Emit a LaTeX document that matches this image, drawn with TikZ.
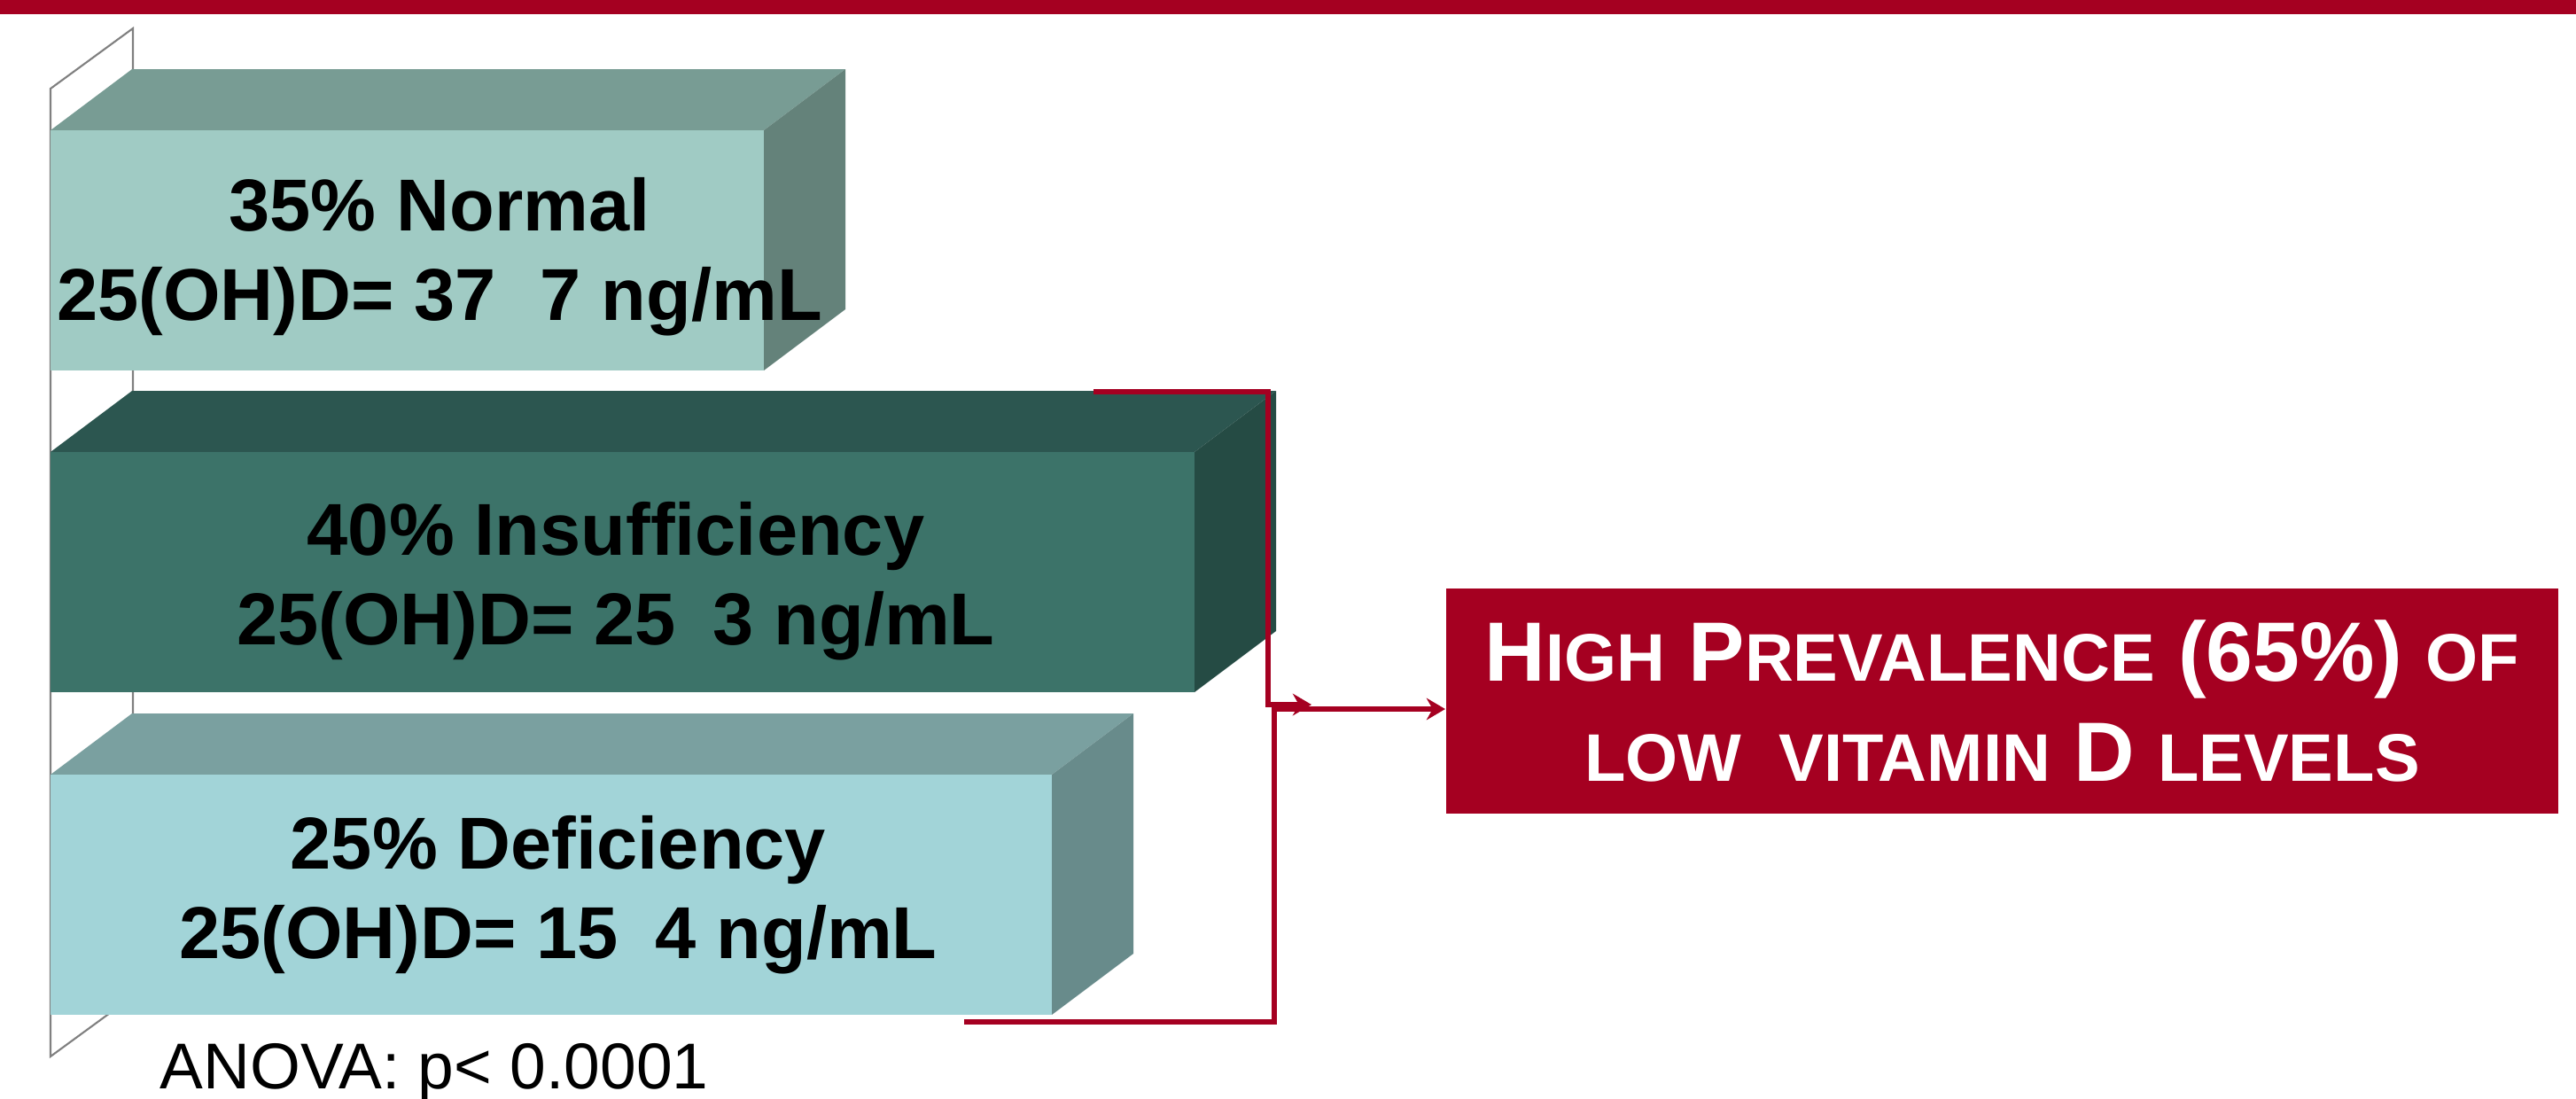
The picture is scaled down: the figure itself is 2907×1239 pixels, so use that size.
\documentclass[tikz,border=0pt]{standalone}
\usepackage{fontspec}
\setmainfont{Liberation Sans}
\usepackage{tikz}
\usetikzlibrary{arrows.meta}
\definecolor{prev red}{HTML}{A50021}
\definecolor{wall gray}{HTML}{808080}
\definecolor{normal front}{HTML}{A0CBC4}
\definecolor{normal top}{HTML}{789C94}
\definecolor{normal side}{HTML}{64827A}
\definecolor{insuff front}{HTML}{3C7369}
\definecolor{insuff top}{HTML}{2C5650}
\definecolor{insuff side}{HTML}{254B44}
\definecolor{defic front}{HTML}{A2D4D8}
\definecolor{defic top}{HTML}{7AA0A0}
\definecolor{defic side}{HTML}{688B8B}
% one bar: left, top, right, bottom, colour stem
\newcommand{\prismbar}[5]{%
  \fill[#5 top] (#1,#2) -- (#1+92,#2-69) -- (#3+92,#2-69) -- (#3,#2) -- cycle;
  \fill[#5 side] (#3,#2) -- (#3+92,#2-69) -- (#3+92,#4-69) -- (#3,#4) -- cycle;
  \fill[#5 front] (#1,#2) rectangle (#3,#4);}
\newcommand{\lowcaps}[1]{{\fontsize{21.6pt}{32pt}\selectfont #1}}

\begin{document}
\begin{tikzpicture}[x=0.01cm, y=-0.01cm,
    barlabel/.style={align=center, text=black, inner sep=0pt,
      font=\fontsize{23.6pt}{28.7pt}\selectfont\bfseries},
    prevbox/.style={fill=prev red, text=white, align=center, inner sep=0pt,
      minimum width=12.55cm, minimum height=2.54cm,
      font=\fontsize{27pt}{32pt}\selectfont\bfseries},
    bracket/.style={draw=prev red, line width=1.6pt,
      -{Stealth[length=6pt,width=7pt]}}]
		\useasboundingbox (0,0) rectangle (2907,1239);
		% band at the top
		\fill[prev red] (0,0) rectangle (2907,16);
		% back wall
		\draw[wall gray, line width=0.6pt, fill=white]
			(57,100) -- (150,32) -- (150,1124) -- (57,1192) -- cycle;
		% the three bars
		\prismbar{57}{147}{862}{418}{normal}
		\prismbar{57}{510}{1348}{781}{insuff}
		\prismbar{57}{874}{1187}{1145}{defic}
		% summary box
		\node[prevbox] (prev) at (2259.5,791)
			{H\lowcaps{IGH} P\lowcaps{REVALENCE} (65\%) \lowcaps{OF}\\
			 \lowcaps{LOW\hspace{0.55em}VITAMIN} D \lowcaps{LEVELS}};
		% brackets
		\coordinate (insTop) at (1234,442);
		\coordinate (bendUp) at (1431,795);
		\coordinate (tipUp) at (1480,795);
		\coordinate (defBot) at (1088,1153);
		\coordinate (bendLow) at (1438,800);
		\draw[bracket] (insTop) -| (bendUp) -- (tipUp);
		\draw[bracket] (defBot) -| (bendLow) -- (bendLow -| prev.west);
		% labels
		\node[barlabel] (normal) at (496,290)
			{35\% Normal\\25(OH)D= 37\hspace{0.6em}7 ng/mL};
		\node[barlabel] (insuff) at (695,656)
			{40\% Insufficiency\\25(OH)D= 25\hspace{0.5em}3 ng/mL};
		\node[barlabel] (defic) at (630,1010)
			{25\% Deficiency\\25(OH)D= 15\hspace{0.5em}4 ng/mL};
		\node[anchor=base west, inner sep=0pt,
			font=\fontsize{20.8pt}{25pt}\selectfont] (anova) at (180,1228)
			{ANOVA: p< 0.0001};
	\end{tikzpicture}
\end{document}
